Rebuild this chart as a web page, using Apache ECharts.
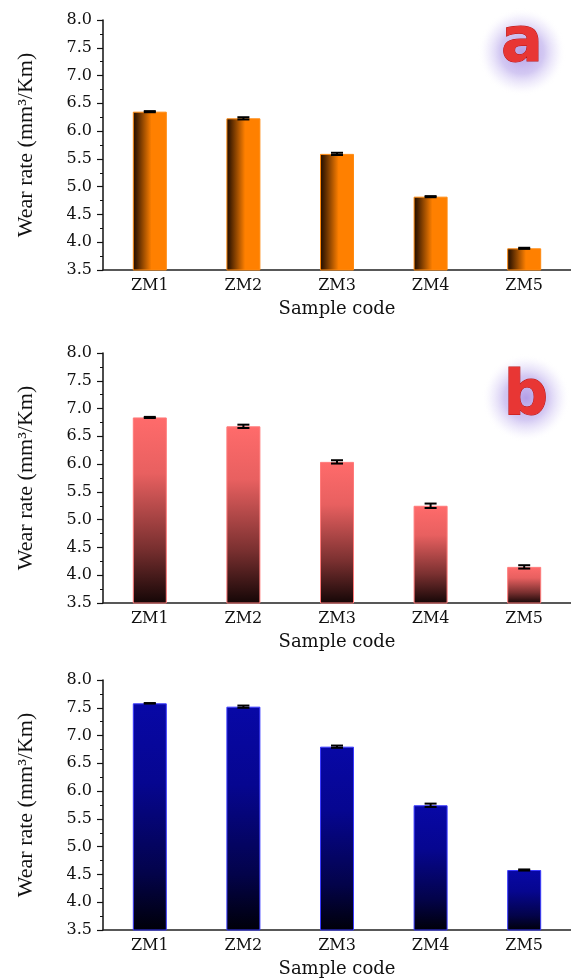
<!DOCTYPE html>
<html>
<head>
<meta charset="utf-8">
<script src="https://cdn.jsdelivr.net/npm/echarts@6/dist/echarts.min.js"></script>
<style>
html,body{margin:0;padding:0;background:#fff;}
#chart{width:571px;height:980px;}
</style>
</head>
<body>
<div id="chart"></div>
<script>
const categories = ['ZM1', 'ZM2', 'ZM3', 'ZM4', 'ZM5'];
const valuesA = [6.35, 6.23, 5.59, 4.82, 3.89];
const errorsA = [0.01, 0.02, 0.02, 0.01, 0.01];
const valuesB = [6.84, 6.68, 6.04, 5.25, 4.15];
const errorsB = [0.01, 0.03, 0.03, 0.04, 0.03];
const valuesC = [7.58, 7.52, 6.80, 5.745, 4.58];
const errorsC = [0.005, 0.02, 0.02, 0.03, 0.01];
const yMin = 3.5, yMax = 8.0, yStep = 0.5;
const panelLetters = ['a', 'b'];

const chart = echarts.init(document.getElementById('chart'), null, {renderer: 'canvas'});

const gridTops = [20, 353, 680];
const gridH = 250;

const grads = [
  new echarts.graphic.LinearGradient(0, 0, 1, 0, [
    {offset: 0, color: '#1e0c00'},
    {offset: 0.12, color: '#4a2200'},
    {offset: 0.55, color: '#ff8000'},
    {offset: 1, color: '#ff8000'}
  ]),
  new echarts.graphic.LinearGradient(0, 0, 0, 1, [
    {offset: 0, color: '#ff6b6b'},
    {offset: 0.3, color: '#e86060'},
    {offset: 0.7, color: '#7a3030'},
    {offset: 1, color: '#140606'}
  ]),
  new echarts.graphic.LinearGradient(0, 0, 0, 1, [
    {offset: 0, color: '#0808a6'},
    {offset: 0.35, color: '#060690'},
    {offset: 0.75, color: '#03034a'},
    {offset: 1, color: '#000008'}
  ])
];
const borders = ['#ff8a10', '#ff7a7a', '#3a3aff'];
const allValues = [valuesA, valuesB, valuesC];
const allErrors = [errorsA, errorsB, errorsC];

const grid = [], xAxis = [], yAxis = [], series = [];
for (let i = 0; i < 3; i++) {
  grid.push({left: 103, top: gridTops[i], width: 473, height: gridH});
  xAxis.push({
    type: 'category', gridIndex: i, data: categories,
    axisLine: {lineStyle: {color: '#222', width: 1.5}},
    axisTick: {show: false},
    axisLabel: {color: '#111', fontFamily: 'DejaVu Serif', fontSize: 16, margin: 8},
    name: 'Sample code', nameLocation: 'middle', nameGap: 30,
    nameTextStyle: {color: '#111', fontFamily: 'DejaVu Serif', fontSize: 18}
  });
  yAxis.push({
    type: 'value', gridIndex: i, min: yMin, max: yMax, interval: yStep,
    axisLine: {show: true, lineStyle: {color: '#111', width: 1.5}},
    axisTick: {show: true, inside: false, length: 6, lineStyle: {color: '#111', width: 1.2}},
    minorTick: {show: true, splitNumber: 2, length: 3, lineStyle: {color: '#111', width: 1}},
    splitLine: {show: false},
    axisLabel: {color: '#111', fontFamily: 'DejaVu Serif', fontSize: 16, margin: 11,
      formatter: v => v.toFixed(1)},
    name: 'Wear rate (mm³/Km)', nameLocation: 'middle', nameRotate: 90, nameGap: 66,
    nameTextStyle: {color: '#111', fontFamily: 'Liberation Serif', fontSize: 22}
  });
  series.push({
    type: 'bar', xAxisIndex: i, yAxisIndex: i, data: allValues[i], barWidth: 34,
    itemStyle: {color: grads[i], borderColor: borders[i], borderWidth: 1},
    silent: true
  });
  const errData = allValues[i].map((v, k) => [k, v, allErrors[i][k]]);
  series.push({
    type: 'custom', xAxisIndex: i, yAxisIndex: i, data: errData, silent: true, z: 10,
    encode: {x: 0, y: 1},
    renderItem: function (params, api) {
      const x = api.value(0), v = api.value(1), e = api.value(2);
      const hi = api.coord([x, v + e]);
      const lo = api.coord([x, v - e]);
      const hw = 6;
      const style = {stroke: '#000', lineWidth: 2};
      return {
        type: 'group',
        children: [
          {type: 'line', shape: {x1: hi[0], y1: hi[1], x2: lo[0], y2: lo[1]}, style: style},
          {type: 'line', shape: {x1: hi[0] - hw, y1: hi[1], x2: hi[0] + hw, y2: hi[1]}, style: style},
          {type: 'line', shape: {x1: lo[0] - hw, y1: lo[1], x2: lo[0] + hw, y2: lo[1]}, style: style}
        ]
      };
    }
  });
}

const letterPos = [[522, 52], [526, 398]];
const graphic = [];
panelLetters.forEach((t, i) => {
  const cx = letterPos[i][0], cy = letterPos[i][1];
  graphic.push({
    type: 'rect', silent: true, z: 50,
    shape: {x: cx - 48, y: cy - 44, width: 96, height: 88},
    style: {
      fill: new echarts.graphic.RadialGradient(0.5, 0.5, 0.5, [
        {offset: 0, color: 'rgba(130,95,215,0.6)'},
        {offset: 0.5, color: 'rgba(150,125,225,0.42)'},
        {offset: 0.8, color: 'rgba(190,175,240,0.15)'},
        {offset: 1, color: 'rgba(255,255,255,0)'}
      ])
    }
  });
  graphic.push({
    type: 'text', silent: true, z: 51,
    x: cx, y: cy + (t === 'a' ? -7 : 0),
    style: {
      text: t, fontFamily: 'DejaVu Sans', fontWeight: 'bold', fontSize: 62,
      align: 'center', verticalAlign: 'middle',
      fill: '#e83634',
      stroke: '#b81414', lineWidth: 1
    }
  });
});

chart.setOption({animation: false, grid, xAxis, yAxis, series, graphic});
</script>
</body>
</html>
